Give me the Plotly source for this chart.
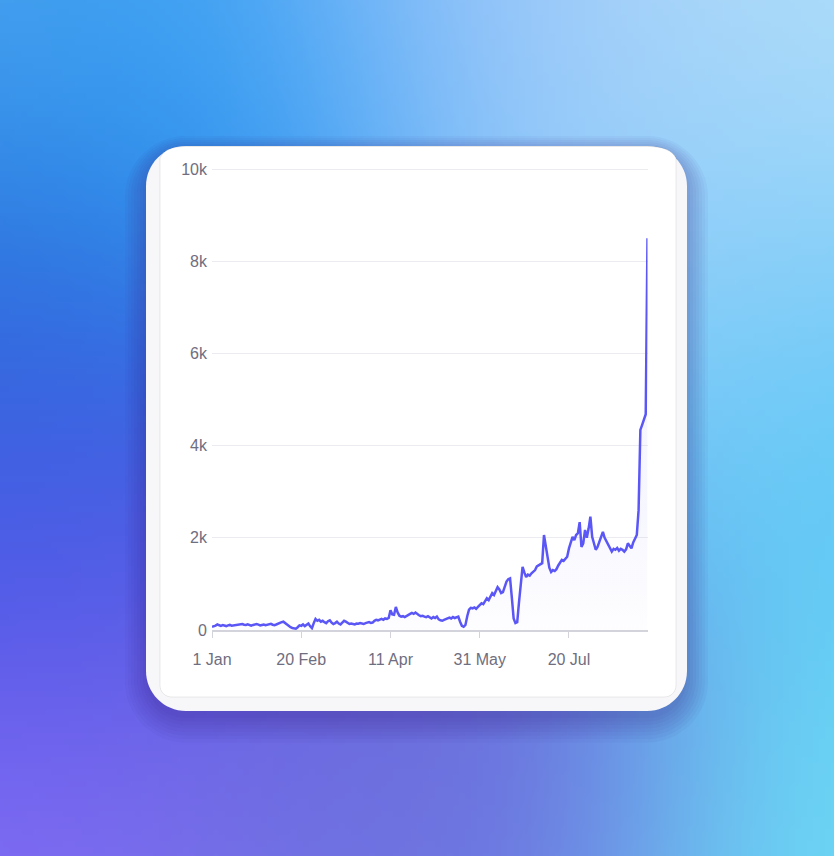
import base64
import struct
import zlib

import numpy as np
import pandas as pd
import plotly.graph_objects as go

W, H = 834, 856

# daily values, 1 Jan .. 2 Sep
values = [
    70, 80, 95, 120, 100, 90, 105, 95, 85, 100,
    110, 95, 100, 115, 105, 110, 120, 130, 115, 110,
    125, 105, 95, 110, 120, 130, 115, 100, 110, 120,
    105, 110, 125, 135, 115, 105, 120, 140, 160, 170,
    180, 150, 110, 80, 60, 45, 35, 30, 60, 100,
    90, 120, 85, 110, 140, 80, 40, 150, 240, 200,
    220, 180, 200, 170, 150, 190, 210, 160, 130, 150,
    180, 140, 120, 160, 200, 180, 150, 130, 140, 130,
    120, 140, 135, 150, 140, 130, 150, 160, 170, 155,
    160, 200, 220, 210, 230, 240, 220, 250, 240, 260,
    430, 340, 330, 500, 380, 310, 290, 300, 280, 310,
    330, 350, 370, 350, 380, 340, 320, 300, 310, 290,
    280, 300, 270, 250, 280, 260, 290, 230, 210, 200,
    220, 240, 260, 270, 250, 280, 260, 270, 290, 180,
    90, 70, 110, 300, 440, 480, 470, 490, 460, 500,
    540, 580, 560, 640, 690, 650, 740, 800, 760, 850,
    930, 880, 800, 820, 950, 1050, 1100, 1120, 700, 250,
    150, 170, 600, 1080, 1370, 1250, 1150, 1200, 1180, 1230,
    1260, 1300, 1380, 1410, 1430, 1450, 2060, 1800, 1520, 1350,
    1260, 1300, 1280, 1320, 1400, 1450, 1520, 1500, 1560, 1590,
    1770, 1900, 2020, 1950, 2060, 2100, 2340, 1800, 1880, 2170,
    2000, 2200, 2460, 2020, 1900, 1740, 1800, 1900, 2000, 2130,
    2000, 1920, 1850, 1780, 1700, 1760, 1740, 1780, 1720, 1760,
    1740, 1700, 1750, 1880, 1820, 1770, 1900, 2000, 2060, 2600,
    4340, 4450, 4560, 4680, 8500,
]
dates = pd.date_range("2021-01-01", periods=len(values), freq="D")

x_tick_dates = ["2021-01-01", "2021-02-20", "2021-04-11", "2021-05-31", "2021-07-20"]
x_tick_labels = ["1 Jan", "20 Feb", "11 Apr", "31 May", "20 Jul"]
y_tick_vals = [0, 2000, 4000, 6000, 8000, 10000]
y_tick_labels = ["0", "2k", "4k", "6k", "8k", "10k"]


def px(x, y):
    return f"{x / W:.5f},{1 - y / H:.5f}"


def rounded_rect(x0, y0, x1, y1, r):
    k = 0.5523 * r
    return (
        f"M {px(x0 + r, y0)} L {px(x1 - r, y0)} "
        f"C {px(x1 - r + k, y0)} {px(x1, y0 + r - k)} {px(x1, y0 + r)} "
        f"L {px(x1, y1 - r)} "
        f"C {px(x1, y1 - r + k)} {px(x1 - r + k, y1)} {px(x1 - r, y1)} "
        f"L {px(x0 + r, y1)} "
        f"C {px(x0 + r - k, y1)} {px(x0, y1 - r + k)} {px(x0, y1 - r)} "
        f"L {px(x0, y0 + r)} "
        f"C {px(x0, y0 + r - k)} {px(x0 + r - k, y0)} {px(x0 + r, y0)} Z"
    )


# soft gradient backdrop, rendered as a small png and stretched
anchors = [
    (0, 0, (80, 165, 240)),
    (220, 110, (35, 155, 245)),
    (480, 20, (165, 200, 250)),
    (800, 40, (180, 225, 250)),
    (0, 330, (28, 118, 214)),
    (20, 470, (55, 90, 222)),
    (30, 560, (105, 80, 240)),
    (20, 820, (135, 112, 245)),
    (400, 830, (118, 132, 238)),
    (420, 745, (100, 88, 205)),
    (800, 820, (108, 220, 246)),
    (810, 420, (88, 200, 246)),
    (700, 250, (150, 205, 250)),
]
gw, gh = 139, 143
gy, gx = np.mgrid[0:gh, 0:gw]
gx = gx * W / (gw - 1)
gy = gy * H / (gh - 1)
num = np.zeros((gh, gw, 3))
den = np.zeros((gh, gw))
for ax, ay, col in anchors:
    w = np.exp(-((gx - ax) ** 2 + (gy - ay) ** 2) / (2 * 170.0 ** 2))
    num += w[..., None] * np.array(col)
    den += w
img = np.clip(num / den[..., None], 0, 255).astype(np.uint8)


def png_uri(arr):
    h, w, _ = arr.shape
    raw = b"".join(b"\x00" + arr[i].tobytes() for i in range(h))

    def chunk(tag, data):
        c = struct.pack(">I", len(data)) + tag + data
        return c + struct.pack(">I", zlib.crc32(tag + data) & 0xFFFFFFFF)

    png = (b"\x89PNG\r\n\x1a\n"
           + chunk(b"IHDR", struct.pack(">IIBBBBB", w, h, 8, 2, 0, 0, 0))
           + chunk(b"IDAT", zlib.compress(raw, 9))
           + chunk(b"IEND", b""))
    return "data:image/png;base64," + base64.b64encode(png).decode()


shapes = []
for i in range(8):
    shapes.append(dict(
        type="path", xref="paper", yref="paper", layer="below",
        path=rounded_rect(146 - i * 3, 150 - i * 2, 687 + i * 3, 718 + i * 3.5, 40 + i * 3),
        fillcolor="rgba(45,30,120,0.04)", line_width=0,
    ))
shapes.append(dict(
    type="path", xref="paper", yref="paper", layer="below",
    path=rounded_rect(146, 146, 687, 711, 40),
    fillcolor="#f7f7f9", line_width=0,
))
inner = (
    f"M {px(160, 158)} C {px(164, 150)} {px(172, 146.5)} {px(186, 146.5)} "
    f"L {px(648, 146.5)} C {px(662, 146.5)} {px(672, 150)} {px(676, 158)} "
    f"L {px(676, 685)} C {px(676, 692)} {px(671, 697)} {px(664, 697)} "
    f"L {px(172, 697)} C {px(165, 697)} {px(160, 692)} {px(160, 685)} Z"
)
shapes.append(dict(
    type="path", xref="paper", yref="paper", layer="below",
    path=inner, fillcolor="white", line=dict(color="rgba(0,0,0,0.08)", width=1),
))

line = go.Scatter(
    x=dates,
    y=values,
    mode="lines",
    line=dict(color="#5b57f7", width=2.5),
    fill="tozeroy",
    fillgradient=dict(
        type="vertical",
        start=0,
        stop=2600,
        colorscale=[[0, "rgba(91,87,247,0.01)"], [1, "rgba(91,87,247,0.05)"]],
    ),
    hoverinfo="x+y",
)

fig = go.Figure(data=[line])

y_top = 10100
fig.update_layout(
    width=W,
    height=H,
    margin=dict(l=0, r=0, t=0, b=0, pad=0, autoexpand=False),
    paper_bgcolor="#7aa0f0",
    plot_bgcolor="rgba(0,0,0,0)",
    showlegend=False,
    font=dict(family="Liberation Sans, Arial, sans-serif", size=16, color="#6f6e80"),
    shapes=shapes,
    images=[dict(
        source=png_uri(img), xref="paper", yref="paper",
        x=0, y=1, sizex=1, sizey=1, sizing="stretch",
        xanchor="left", yanchor="top", layer="below",
    )],
    xaxis=dict(
        domain=[212 / W, 647.5 / W],
        range=[dates[0], dates[-1]],
        tickvals=x_tick_dates,
        ticktext=x_tick_labels,
        ticks="outside",
        ticklen=6,
        tickwidth=1.2,
        tickcolor="#d3d3db",
        showline=True,
        linecolor="#d3d3db",
        linewidth=1.5,
        showgrid=False,
        zeroline=False,
        automargin=False,
        ticklabelstandoff=8,
    ),
    yaxis=dict(
        domain=[1 - 630 / H, 1 - (630 - 0.0461 * y_top) / H],
        range=[0, y_top],
        tickvals=y_tick_vals,
        ticktext=y_tick_labels,
        showgrid=True,
        gridcolor="#ececf0",
        gridwidth=1.2,
        zeroline=False,
        showline=False,
        ticks="",
        automargin=False,
        ticklabelstandoff=4,
    ),
)

fig.write_html(
    "out.html",
    config={"displayModeBar": False},
    post_script="document.body.style.margin='0';document.body.style.overflow='hidden';",
)
